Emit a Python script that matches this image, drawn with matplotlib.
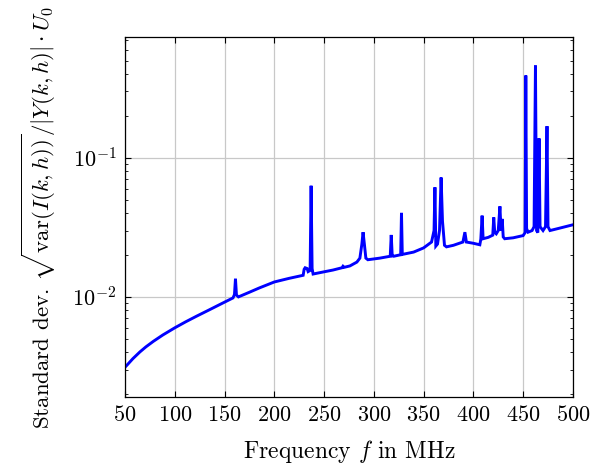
import matplotlib
matplotlib.use("Agg")
import matplotlib.pyplot as plt
import numpy as np
from matplotlib.ticker import LogLocator, NullFormatter

plt.rcParams.update({
    "font.family": "serif",
    "font.serif": ["cmr10"],
    "mathtext.fontset": "cm",
    "axes.formatter.use_mathtext": True,
    "axes.unicode_minus": False,
})

# Frequency samples (MHz) and normalised standard deviation
freq_mhz = [
    50, 52, 58, 65, 71, 78.5, 88, 100, 111, 122, 135, 147, 158.5,
    160, 161, 162, 164, 175, 185, 200, 215, 229, 230, 231, 233, 234, 236,
    237, 238, 239, 245, 259, 268, 269, 270, 276, 283, 286, 288, 289.2,
    290.5, 292, 294, 306, 316.5, 317.5, 318.5, 320, 327, 327.8, 328.6, 340,
    350, 358, 360.5, 361.4, 362.3, 364, 366, 367.6, 369, 371, 373, 380,
    389.5, 391.5, 393, 400, 406.5, 407.5, 408.8, 409.8, 415, 419.5, 420.5,
    421.5, 423, 425, 426.7, 427.8, 429, 430, 431.5, 440, 450, 452, 452.7,
    453.5, 455, 459, 461, 462.4, 463.5, 464.8, 466, 467, 470, 472.5, 474,
    475, 477, 485, 500,
]
std_dev = [
    0.00312, 0.00323, 0.0036, 0.00402, 0.00437, 0.00479, 0.00532, 0.00599,
    0.00662, 0.00727, 0.00809, 0.00894, 0.00983, 0.0104, 0.0135,
    0.0103, 0.0100, 0.0108, 0.0116, 0.0128, 0.0136, 0.0143, 0.0158, 0.0162,
    0.0160, 0.0152, 0.0155, 0.063, 0.0160, 0.0146, 0.0149, 0.0156, 0.0162,
    0.0166, 0.0163, 0.0167, 0.0178, 0.0190, 0.0240, 0.0292, 0.0240, 0.0190,
    0.0185, 0.0190, 0.0196, 0.0279, 0.0197, 0.0196, 0.0201, 0.0402, 0.0202,
    0.0210, 0.0225, 0.0248, 0.0300, 0.0614, 0.0232, 0.0240, 0.0300, 0.0722,
    0.0350, 0.0235, 0.0229, 0.0235, 0.0248, 0.0292, 0.0248, 0.0243, 0.0237,
    0.0260, 0.0384, 0.0262, 0.0268, 0.0278, 0.0373, 0.0290, 0.0284, 0.0300,
    0.0448, 0.0300, 0.0364, 0.0270, 0.0262, 0.0266, 0.0276, 0.0290, 0.391,
    0.0310, 0.0292, 0.0300, 0.0320, 0.461, 0.0300, 0.0290, 0.138, 0.0320,
    0.0300, 0.0320, 0.169, 0.0320, 0.0300, 0.0310, 0.0330,
]
x_ticks = [50, 100, 150, 200, 250, 300, 350, 400, 450, 500]

fig = plt.figure(figsize=(5.98, 4.68), dpi=100)
ax = fig.add_axes([0.209, 0.152, 0.749, 0.769])

ax.plot(freq_mhz, std_dev, color="#0000ff", lw=2.1, solid_joinstyle="miter")

ax.set_yscale("log")
ax.set_xlim(50, 500)
ax.set_ylim(0.00191, 0.74)
ax.set_xticks(x_ticks)
ax.yaxis.set_major_locator(LogLocator(base=10, numticks=10))
ax.yaxis.set_minor_locator(LogLocator(base=10, subs=np.arange(2, 10), numticks=20))
ax.yaxis.set_minor_formatter(NullFormatter())

ax.grid(True, which="major", color="#c8c8c8", lw=0.9)
ax.set_axisbelow(True)
ax.tick_params(which="both", direction="in", top=True, right=True,
               labelsize=16, pad=6)
ax.tick_params(which="major", length=4.5, width=0.8)
ax.tick_params(which="minor", length=2.5, width=0.6)
for s in ax.spines.values():
    s.set_linewidth(0.9)

ax.set_xlabel(r"Frequency $f$ in MHz", fontsize=17, labelpad=9)
ax.set_ylabel(r"Standard dev. $\sqrt{\mathrm{var}(I(k,h))}/|Y(k,h)|\cdot U_0$",
              fontsize=16.5, labelpad=10)

fig.savefig("out.png", dpi=100)
